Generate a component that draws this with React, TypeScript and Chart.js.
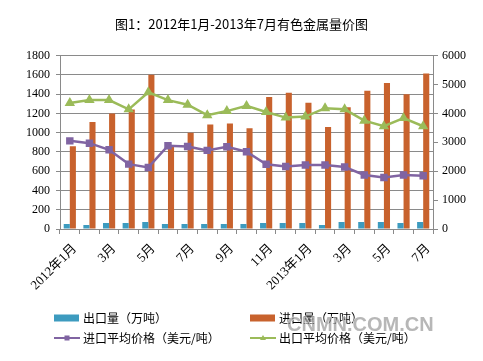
import React, { useEffect, useRef } from "react";
import { Chart, registerables } from "chart.js";

Chart.register(...registerables);

const categories = [
  "2012年1月", "2月", "3月", "4月", "5月", "6月", "7月", "8月", "9月", "10月", "11月", "12月",
  "2013年1月", "2月", "3月", "4月", "5月", "6月", "7月",
];
const exportVolume = [52, 42, 62, 62, 73, 52, 52, 52, 52, 52, 62, 62, 62, 42, 73, 73, 73, 62, 73];
const importVolume = [860, 1110, 1200, 1240, 1600, 870, 1000, 1085, 1095, 1045, 1370, 1415, 1310, 1060, 1265, 1435, 1515, 1400, 1615];
const importPrice = [3050, 2970, 2740, 2245, 2130, 2880, 2855, 2720, 2845, 2675, 2240, 2160, 2215, 2215, 2145, 1870, 1780, 1870, 1845];
const exportPrice = [4360, 4460, 4460, 4140, 4730, 4460, 4300, 3940, 4080, 4260, 4050, 3855, 3890, 4180, 4140, 3750, 3555, 3840, 3555];

const seriesNames = ["出口量（万吨）", "进口量（万吨）", "进口平均价格（美元/吨）", "出口平均价格（美元/吨）"];
const titleText = "图1：2012年1月-2013年7月有色金属量价图";
const watermark = "CNMN.COM.CN";

const BLUE = "#3d9bbf";
const ORANGE = "#c8622d";
const PURPLE = "#8064a2";
const GREEN = "#9bbb59";
const GRID = "#8a8a8a";
const CJK = '"Noto Sans CJK SC", sans-serif';
const NUM = '"Liberation Serif", "Noto Sans CJK SC", serif';

const legendPlugin = {
  id: "customLegend",
  afterDraw(chart: any) {
    const ctx = chart.ctx;
    const ds = chart.data.datasets;
    const slots = [
      { x: 54, y: 318 },
      { x: 250, y: 318 },
      { x: 54, y: 338 },
      { x: 250, y: 338 },
    ];
    ctx.save();
    ctx.font = "12px " + CJK;
    ctx.textBaseline = "middle";
    ctx.textAlign = "left";
    ds.forEach((d: any, i: number) => {
      const s = slots[i];
      if (d.type === "line") {
        ctx.strokeStyle = d.borderColor;
        ctx.lineWidth = 2;
        ctx.beginPath();
        ctx.moveTo(s.x, s.y);
        ctx.lineTo(s.x + 26, s.y);
        ctx.stroke();
        ctx.fillStyle = d.borderColor;
        const cx = s.x + 13;
        if (d.pointStyle === "rect") {
          ctx.fillRect(cx - 2.5, s.y - 2.5, 5, 5);
        } else {
          ctx.beginPath();
          ctx.moveTo(cx, s.y - 3);
          ctx.lineTo(cx + 3, s.y + 2);
          ctx.lineTo(cx - 3, s.y + 2);
          ctx.closePath();
          ctx.fill();
        }
      } else {
        ctx.fillStyle = d.backgroundColor;
        ctx.fillRect(s.x, s.y - 3.5, 25, 7);
      }
      ctx.fillStyle = "#000";
      ctx.fillText(d.label, s.x + 29, s.y);
    });
    ctx.textAlign = "left";
    ctx.font = 'bold 20px "Liberation Sans", sans-serif';
    ctx.lineWidth = 1;
    ctx.strokeStyle = "rgba(255,255,255,0.8)";
    ctx.strokeText(watermark, 287, 325);
    ctx.fillStyle = "rgba(135,135,135,0.6)";
    ctx.fillText(watermark, 287, 325);
    ctx.restore();
  },
};

export default function App() {
  const ref = useRef<HTMLCanvasElement>(null);
  useEffect(() => {
    if (!ref.current) return;
    const chart = new Chart(ref.current, {
      type: "bar",
      data: {
        labels: categories,
        datasets: [
          {
            type: "bar",
            label: seriesNames[0],
            data: exportVolume,
            backgroundColor: BLUE,
            yAxisID: "y",
            order: 1,
            barPercentage: 1,
            categoryPercentage: 0.62,
          },
          {
            type: "bar",
            label: seriesNames[1],
            data: importVolume,
            backgroundColor: ORANGE,
            yAxisID: "y",
            order: 1,
            barPercentage: 1,
            categoryPercentage: 0.62,
          },
          {
            type: "line",
            label: seriesNames[2],
            data: importPrice,
            borderColor: PURPLE,
            backgroundColor: PURPLE,
            borderWidth: 2.5,
            pointStyle: "rect",
            pointRadius: 3.5,
            yAxisID: "y1",
            order: 0,
          },
          {
            type: "line",
            label: seriesNames[3],
            data: exportPrice,
            borderColor: GREEN,
            backgroundColor: GREEN,
            borderWidth: 2.5,
            pointStyle: "triangle",
            pointRadius: 3.5,
            yAxisID: "y1",
            order: 0,
          },
        ] as any,
      },
      options: {
        responsive: false,
        animation: false,
        layout: { padding: 0 },
        plugins: {
          legend: { display: false },
          tooltip: { enabled: false },
          title: {
            display: true,
            text: titleText,
            color: "#000",
            font: { size: 13, family: CJK, weight: "normal" },
            padding: { top: 16, bottom: 24 },
          },
        },
        scales: {
          x: {
            offset: true,
            grid: { display: true, drawOnChartArea: false, offset: true, tickLength: 5, color: GRID },
            border: { color: GRID },
            ticks: {
              autoSkip: false,
              minRotation: 45,
              maxRotation: 45,
              color: "#000",
              font: { size: 13, family: NUM },
              padding: 7,
              labelOffset: 5,
              callback: (_v: any, i: number) => (i % 2 === 0 ? categories[i] : ""),
            },
            afterFit: (s: any) => {
              s.height = 132;
            },
          },
          y: {
            position: "left",
            min: 0,
            max: 1800,
            grid: { color: GRID, tickLength: 4 },
            border: { color: GRID },
            ticks: {
              stepSize: 200,
              color: "#000",
              font: { size: 12, family: NUM },
              padding: 6,
              callback: (v: any) => String(v),
            },
            afterFit: (s: any) => {
              s.width = 60;
            },
          },
          y1: {
            position: "right",
            min: 0,
            max: 6000,
            grid: { drawOnChartArea: false, color: GRID, tickLength: 5 },
            border: { color: GRID },
            ticks: {
              stepSize: 1000,
              color: "#000",
              font: { size: 12, family: NUM },
              padding: 4,
              callback: (v: any) => String(v),
            },
            afterFit: (s: any) => {
              s.width = 50;
            },
          },
        },
      } as any,
      plugins: [legendPlugin],
    });
    return () => chart.destroy();
  }, []);
  return (
    <div style={{ position: "fixed", left: 0, top: 0, width: 483, height: 361, background: "#fff" }}>
      <canvas ref={ref} width={483} height={361} />
    </div>
  );
}
